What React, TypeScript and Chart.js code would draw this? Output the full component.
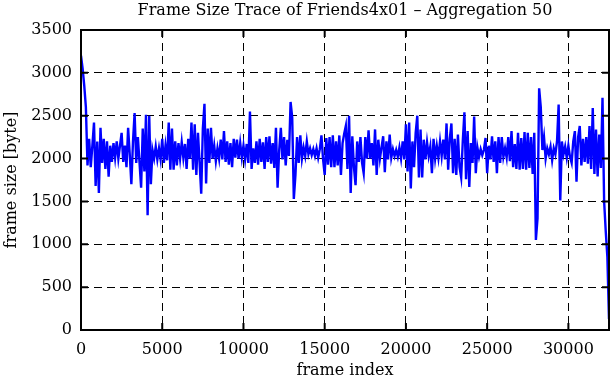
import { useEffect, useRef } from "react";
import { Chart, registerables } from "chart.js";

Chart.register(...registerables);

const TITLE = "Frame Size Trace of Friends4x01 – Aggregation 50";
const X_LABEL = "frame index";
const Y_LABEL = "frame size [byte]";

// one sample every FRAME_STEP frames
const FRAME_STEP = 100;
const X_MAX = 32500;
const X_TICKS = [0, 5000, 10000, 15000, 20000, 25000, 30000];
const Y_TICKS = [0, 500, 1000, 1500, 2000, 2500, 3000, 3500];

const FRAME_SIZES = [
  3200, 3050, 2850, 2600, 1920, 2230, 1900, 2150, 2420, 1680,
  2200, 1600, 2360, 1950, 2230, 1880, 2200, 1790, 2150, 1960,
  2180, 2010, 2200, 2000, 2150, 2300, 1960, 2150, 1900, 2360,
  2050, 1700, 2200, 2530, 1950, 2250, 1960, 1660, 2350, 1850,
  2510, 1340, 2500, 1700, 2100, 2000, 2140, 1990, 2120, 1990,
  2230, 1950, 2150, 1980, 2420, 1870, 2350, 1870, 2200, 1920,
  2180, 2000, 2190, 2010, 2170, 1880, 2230, 2000, 2420, 1870,
  2400, 1810, 2300, 1950, 1590, 2350, 2640, 1710, 2350, 1950,
  2360, 2000, 2150, 1970, 2120, 2000, 2220, 1990, 2320, 1960,
  2200, 1930, 2180, 1900, 2230, 2010, 2220, 2000, 2180, 2010,
  2150, 1990, 2170, 1950, 2550, 1880, 2120, 1950, 2200, 1930,
  2230, 1960, 2190, 1880, 2250, 1960, 2260, 1940, 2180, 1890,
  2360, 1660, 2100, 2360, 1990, 2250, 1920, 2220, 2030, 2660,
  2480, 1530, 1810, 2250, 1950, 2270, 2000, 2130, 2030, 2200,
  2050, 2120, 2040, 2110, 2030, 2120, 2010, 2110, 2270, 1990,
  1810, 2240, 1930, 2250, 1900, 2270, 1900, 2200, 1920, 2270,
  1810, 2180, 2290, 2380, 1880, 2500, 1600, 2260, 1900, 1690,
  2200, 1960, 2250, 1950, 1830, 2250, 2000, 2330, 2000, 2180,
  1920, 2340, 1810, 2220, 2000, 2130, 2260, 1840, 2200, 1990,
  2280, 2010, 2110, 2030, 2100, 2020, 2130, 2000, 2200, 1990,
  2400, 1850, 2420, 1650, 2200, 1900, 2300, 2500, 1780, 2340,
  1780, 2220, 1990, 2190, 2030, 2140, 1830, 2230, 2000, 2150,
  2010, 2200, 2030, 2220, 1990, 2410, 1870, 2230, 2410, 1830,
  2230, 1810, 2280, 1900, 1780, 2200, 2540, 1760, 2320, 1670,
  2180, 1950, 2490, 1830, 2130, 2020, 2110, 2040, 2100, 2240,
  1830, 2150, 1990, 2260, 1960, 2200, 1830, 2250, 1950, 2250,
  2020, 2120, 2010, 2250, 1970, 2320, 1900, 2170, 1880, 2300,
  1870, 2240, 1880, 2310, 1870, 2300, 1890, 2250, 1820, 2300,
  1050, 1300, 2820, 2600, 2100, 2250, 2000, 2120, 2050, 2140,
  1980, 2120, 2050, 2200, 2630, 1510, 2200, 2050, 2140, 2010,
  2150, 2020, 1950, 2200, 2320, 1730, 2250, 2380, 1920, 2230,
  1960, 2250, 1940, 2380, 1880, 2590, 1820, 2340, 1790, 2280,
  1890, 2710, 1500, 1150, 850, 130,
];

const FONT = "'DejaVu Serif', serif";

export default function App() {
  const ref = useRef<HTMLCanvasElement>(null);

  useEffect(() => {
    document.body.style.margin = "0";
    const canvas = ref.current;
    if (!canvas) return;

    const points = FRAME_SIZES.map((v, i) => ({ x: i * FRAME_STEP, y: v }));

    const framePlugin = {
      id: "frameBox",
      afterDraw(chart: any) {
        const { ctx, chartArea } = chart;
        const { left, right, top, bottom } = chartArea;
        const xs = chart.scales.x;
        const ys = chart.scales.y;
        ctx.save();
        ctx.strokeStyle = "#000";
        ctx.lineWidth = 2;
        ctx.setLineDash([]);
        ctx.beginPath();
        const len = 7;
        X_TICKS.forEach((t) => {
          const px = xs.getPixelForValue(t);
          ctx.moveTo(px, bottom);
          ctx.lineTo(px, bottom - len);
          ctx.moveTo(px, top);
          ctx.lineTo(px, top + len);
        });
        Y_TICKS.forEach((t) => {
          const py = ys.getPixelForValue(t);
          ctx.moveTo(left, py);
          ctx.lineTo(left + len, py);
          ctx.moveTo(right, py);
          ctx.lineTo(right - len, py);
        });
        ctx.stroke();
        ctx.strokeRect(left, top, right - left, bottom - top);
        // title centred over the plot area
        ctx.fillStyle = "#000";
        ctx.font = `16px ${FONT}`;
        ctx.textAlign = "center";
        ctx.textBaseline = "middle";
        ctx.fillText(TITLE, (left + right) / 2, 11);
        ctx.restore();
      },
    };

    Chart.defaults.color = "#000";

    const chart = new Chart(canvas, {
      type: "line",
      data: {
        datasets: [
          {
            data: points,
            borderColor: "#0000ff",
            borderWidth: 2.4,
            pointRadius: 0,
            tension: 0,
            fill: false,
          },
        ],
      },
      options: {
        animation: false,
        responsive: false,
        events: [],
        layout: { padding: { left: 0, right: 2, top: 30, bottom: 0 } },
        plugins: {
          legend: { display: false },
          tooltip: { enabled: false },
          title: { display: false },
        },
        scales: {
          x: {
            type: "linear",
            min: 0,
            max: X_MAX,
            afterBuildTicks: (scale: any) => {
              scale.ticks = X_TICKS.map((v) => ({ value: v }));
            },
            afterFit: (scale: any) => {
              scale.height = 50;
            },
            ticks: {
              color: "#000",
              font: { family: FONT, size: 16 },
              padding: 10,
              maxRotation: 0,
              autoSkip: false,
              callback: (v: any) => String(v),
            },
            grid: { color: "#000", lineWidth: 1, drawTicks: false },
            border: { display: false, dash: [8, 5] },
            title: {
              display: true,
              text: X_LABEL,
              color: "#000",
              font: { family: FONT, size: 16, lineHeight: 1.2 },
              padding: { top: 0, bottom: 0 },
            },
          },
          y: {
            type: "linear",
            min: 0,
            max: 3500,
            afterBuildTicks: (scale: any) => {
              scale.ticks = Y_TICKS.map((v) => ({ value: v }));
            },
            afterFit: (scale: any) => {
              scale.width = 81;
            },
            ticks: {
              color: "#000",
              font: { family: FONT, size: 16 },
              padding: 9,
              autoSkip: false,
              callback: (v: any) => String(v),
            },
            grid: { color: "#000", lineWidth: 1, drawTicks: false },
            border: { display: false, dash: [8, 5] },
            title: {
              display: true,
              text: Y_LABEL,
              color: "#000",
              font: { family: FONT, size: 16, lineHeight: 1.2 },
              padding: { top: 2, bottom: 0 },
            },
          },
        },
      },
      plugins: [framePlugin],
    });

    return () => chart.destroy();
  }, []);

  return (
    <div style={{ width: 611, height: 380 }}>
      <canvas ref={ref} width={611} height={380} style={{ display: "block" }} />
    </div>
  );
}
